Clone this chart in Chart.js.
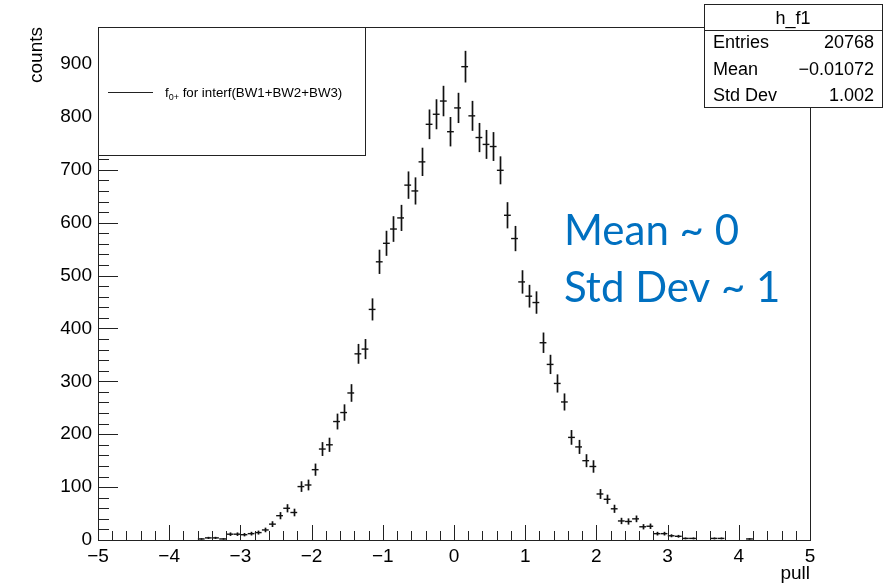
<!DOCTYPE html>
<html>
<head>
<meta charset="utf-8">
<title>h_f1 pull</title>
<script src="https://cdn.jsdelivr.net/npm/chart.js@4.4.0/dist/chart.umd.min.js"></script>
<style>
  html, body { margin: 0; padding: 0; background: #fff; }
  #wrap { width: 894px; height: 585px; }
</style>
</head>
<body>
<div id="wrap"><canvas id="pull-chart" width="894" height="585"></canvas></div>
<script>
// Histogramme h_f1 : centres des bins non vides (largeur 0.1) et contenus
const binWidth = 0.1;
const binCenters = [
  -3.55, -3.45, -3.35, -3.25, -3.15, -3.05, -2.95, -2.85, -2.75, -2.65,
  -2.55, -2.45, -2.35, -2.25, -2.15, -2.05, -1.95, -1.85, -1.75, -1.65,
  -1.55, -1.45, -1.35, -1.25, -1.15, -1.05, -0.95, -0.85, -0.75, -0.65,
  -0.55, -0.45, -0.35, -0.25, -0.15, -0.05, 0.05, 0.15, 0.25, 0.35,
  0.45, 0.55, 0.65, 0.75, 0.85, 0.95, 1.05, 1.15, 1.25, 1.35,
  1.45, 1.55, 1.65, 1.75, 1.85, 1.95, 2.05, 2.15, 2.25, 2.35,
  2.45, 2.55, 2.65, 2.75, 2.85, 2.95, 3.05, 3.15, 3.25, 3.35,
  3.65, 3.75, 4.15
];
const counts = [
  2, 4, 4, 2, 11, 11, 10, 12, 14, 19,
  30, 46, 60, 52, 101, 104, 133, 172, 180, 224,
  241, 278, 352, 361, 436, 526, 561, 588, 609, 671,
  660, 715, 786, 805, 830, 772, 817, 895, 802, 761,
  748, 744, 699, 614, 570, 488, 461, 449, 373, 332,
  296, 261, 194, 176, 150, 139, 87, 77, 59, 36,
  35, 40, 25, 26, 12, 12, 8, 7, 3, 3,
  3, 3, 2
];

// Axes
const xMin = -5, xMax = 5, xStep = 0.2;
const yMin = 0, yMax = 970, yStep = 20, yLabelStep = 100;

// Boîte de statistiques et légende
const histName = 'h_f1';
const statsLabels = ['Entries', 'Mean', 'Std Dev'];
const statsValues = ['20768', '\u22120.01072', '1.002'];
const legendLabel = ' for interf(BW1+BW2+BW3)';
const noteLines = ['Mean ~ 0', 'Std Dev ~ 1'];

const rootFont = '"Liberation Sans", Arial, sans-serif';

function fmtMinus(v) {
  return v < 0 ? '\u2212' + Math.abs(v) : String(v);
}

// Barres d'erreur verticales (sqrt(N))
const errorBars = {
  id: 'errorBars',
  afterDatasetsDraw(chart) {
    const { ctx, scales: { x, y } } = chart;
    ctx.save();
    ctx.strokeStyle = '#111';
    ctx.lineWidth = 1.7;
    binCenters.forEach((c, i) => {
      const n = counts[i];
      const err = Math.sqrt(n);
      const px = Math.round(x.getPixelForValue(c)) + 0.5;
      ctx.beginPath();
      ctx.moveTo(px, y.getPixelForValue(Math.max(0, n - err)));
      ctx.lineTo(px, y.getPixelForValue(n + err));
      ctx.stroke();
    });
    ctx.restore();
  }
};

// Cadre, graduations internes, légende et boîte de stats façon ROOT
const rootDecor = {
  id: 'rootDecor',
  afterDraw(chart) {
    const { ctx, chartArea: a, scales: { x, y } } = chart;
    ctx.save();

    // cadre
    ctx.strokeStyle = '#222';
    ctx.lineWidth = 1;
    ctx.strokeRect(a.left + 0.5, a.top + 0.5, a.right - a.left, a.bottom - a.top);

    // graduations
    ctx.beginPath();
    y.ticks.forEach(t => {
      const py = Math.round(y.getPixelForValue(t.value)) + 0.5;
      const len = t.value % yLabelStep === 0 ? 20 : 11;
      ctx.moveTo(a.left, py);
      ctx.lineTo(a.left + len, py);
    });
    x.ticks.forEach(t => {
      const px = Math.round(x.getPixelForValue(t.value)) + 0.5;
      const major = Math.abs(t.value - Math.round(t.value)) < 1e-6;
      const len = major ? 15 : 9;
      ctx.moveTo(px, a.bottom);
      ctx.lineTo(px, a.bottom - len);
    });
    ctx.stroke();

    // légende
    ctx.fillStyle = '#fff';
    ctx.fillRect(a.left, a.top, 267, 128);
    ctx.strokeStyle = '#222';
    ctx.strokeRect(a.left + 0.5, a.top + 0.5, 267, 128);
    ctx.beginPath();
    ctx.moveTo(108, 92.5);
    ctx.lineTo(153, 92.5);
    ctx.stroke();
    ctx.fillStyle = '#000';
    ctx.textBaseline = 'alphabetic';
    ctx.textAlign = 'left';
    ctx.font = '13.3px ' + rootFont;
    ctx.fillText('f', 165, 97);
    let tx = 165 + ctx.measureText('f').width;
    ctx.font = '9px ' + rootFont;
    ctx.fillText('0+', tx, 100);
    tx += ctx.measureText('0+').width;
    ctx.font = '13.3px ' + rootFont;
    ctx.fillText(legendLabel, tx, 97);

    // boîte de statistiques
    const bx = 704, by = 4, bw = 178, bh = 103;
    ctx.fillStyle = '#fff';
    ctx.fillRect(bx, by, bw, bh);
    ctx.strokeStyle = '#222';
    ctx.strokeRect(bx + 0.5, by + 0.5, bw, bh);
    ctx.beginPath();
    ctx.moveTo(bx, 30.5);
    ctx.lineTo(bx + bw, 30.5);
    ctx.stroke();
    ctx.fillStyle = '#000';
    ctx.font = '18px ' + rootFont;
    ctx.textAlign = 'center';
    ctx.fillText(histName, bx + bw / 2, 24);
    const rowY = [48, 75, 101];
    statsLabels.forEach((lab, i) => {
      ctx.textAlign = 'left';
      ctx.fillText(lab, bx + 9, rowY[i]);
      ctx.textAlign = 'right';
      ctx.fillText(statsValues[i], bx + bw - 8, rowY[i]);
    });

    // annotation
    ctx.fillStyle = '#0070C0';
    ctx.textAlign = 'left';
    ctx.font = '42px Lato, "Open Sans", sans-serif';
    ctx.fillText(noteLines[0], 564, 245);
    ctx.fillText(noteLines[1], 564, 302);

    ctx.restore();
  }
};

const points = binCenters.map((c, i) => ({ x: c, y: counts[i] }));

new Chart(document.getElementById('pull-chart'), {
  type: 'scatter',
  data: {
    datasets: [{
      label: 'f0+ for interf(BW1+BW2+BW3)',
      data: points,
      pointStyle: 'line',
      pointRadius: 3.4,
      pointHoverRadius: 3.4,
      pointBorderWidth: 1.4,
      borderColor: '#111',
      backgroundColor: '#111',
      showLine: false
    }]
  },
  options: {
    responsive: false,
    animation: false,
    devicePixelRatio: 1,
    layout: { padding: { left: 0, right: 84, top: 27, bottom: 0 } },
    plugins: {
      legend: { display: false },
      tooltip: { enabled: false }
    },
    scales: {
      x: {
        type: 'linear',
        min: xMin,
        max: xMax,
        afterFit: s => { s.height = 45; },
        grid: { display: false, drawTicks: false },
        border: { display: false },
        ticks: {
          stepSize: xStep,
          maxTicksLimit: 100,
          autoSkip: false,
          maxRotation: 0,
          padding: 5,
          color: '#000',
          font: { family: rootFont, size: 19 },
          callback: v => Math.abs(v - Math.round(v)) < 1e-6 ? fmtMinus(Math.round(v)) : ''
        },
        title: {
          display: true,
          text: 'pull',
          align: 'end',
          color: '#000',
          font: { family: rootFont, size: 19 },
          padding: { top: 0, bottom: 0 }
        }
      },
      y: {
        min: yMin,
        max: yMax,
        afterFit: s => { s.width = 98; },
        grid: { display: false, drawTicks: false },
        border: { display: false },
        ticks: {
          stepSize: yStep,
          includeBounds: false,
          maxTicksLimit: 100,
          autoSkip: false,
          padding: 6,
          color: '#000',
          font: { family: rootFont, size: 19 },
          callback: v => v % yLabelStep === 0 ? String(v) : ''
        },
        title: {
          display: true,
          text: 'counts',
          align: 'end',
          color: '#000',
          font: { family: rootFont, size: 19 },
          padding: { top: 25, bottom: 0 }
        }
      }
    }
  },
  plugins: [errorBars, rootDecor]
});
</script>
</body>
</html>
